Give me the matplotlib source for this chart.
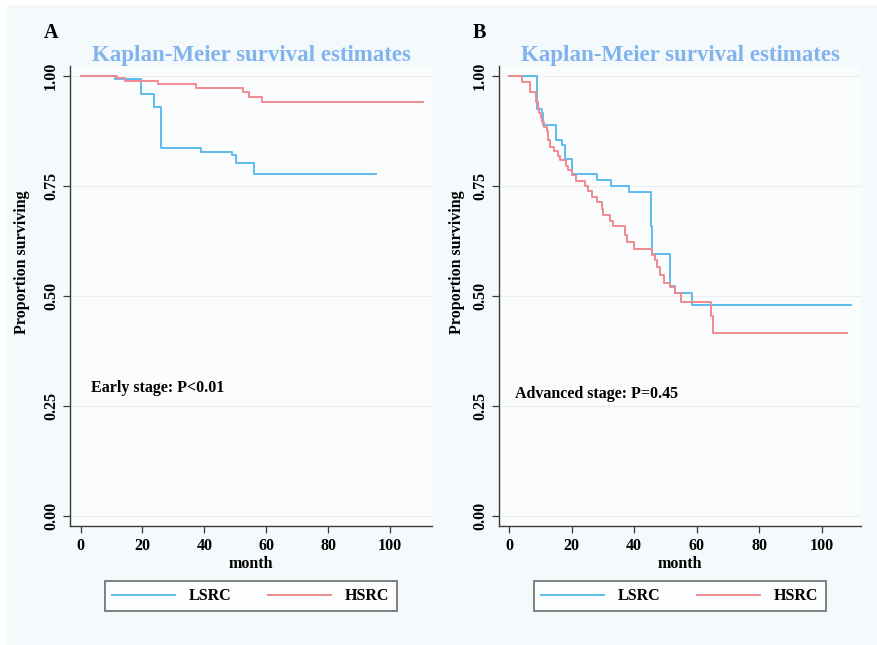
import matplotlib
matplotlib.use("Agg")
import matplotlib.pyplot as plt
from matplotlib.patches import Rectangle

plt.rcParams['font.family'] = ['Liberation Serif', 'DejaVu Serif']
plt.rcParams['font.weight'] = 'bold'

# ---------------- data ----------------
panel_letters = ["A", "B"]
title_text = "Kaplan-Meier survival estimates"
group_names = ["LSRC", "HSRC"]
annotations = ["Early stage: P<0.01", "Advanced stage: P=0.45"]
x_ticks = [0, 20, 40, 60, 80, 100]
y_ticks = [0.00, 0.25, 0.50, 0.75, 1.00]
y_tick_labels = ["0.00", "0.25", "0.50", "0.75", "1.00"]

# Panel A (early stage)
lsrc_a_time = [0, 11.1, 19.4, 23.9, 26.0, 39.1, 49.0, 50.2, 56.0, 95.5]
lsrc_a_surv = [1.0, 0.993, 0.958, 0.930, 0.836, 0.828, 0.821, 0.802, 0.777, 0.777]
hsrc_a_time = [0, 11.8, 14.3, 25.2, 37.3, 52.5, 54.5, 58.6, 110.6]
hsrc_a_surv = [1.0, 0.995, 0.988, 0.981, 0.973, 0.963, 0.952, 0.940, 0.940]

# Panel B (advanced stage)
lsrc_b_time = [0, 8.8, 10.4, 11.0, 14.9, 16.8, 17.9, 20.2, 28.1, 32.5, 38.2,
               45.3, 45.8, 51.4, 53.0, 58.6, 109.2]
lsrc_b_surv = [1.0, 0.924, 0.917, 0.889, 0.855, 0.844, 0.812, 0.777, 0.764, 0.750, 0.736,
               0.658, 0.595, 0.523, 0.507, 0.480, 0.480]
hsrc_b_time = [0, 4.2, 6.6, 8.5, 9.2, 9.6, 10.2, 10.6, 11.3, 12.0,
               12.6, 13.1, 14.5, 15.8, 16.3, 18.1, 19.0, 20.0, 21.3, 24.3,
               25.3, 26.4, 28.0, 29.6, 30.1, 32.3, 33.1, 37.1, 37.8, 40.0,
               45.6, 46.6, 47.4, 48.2, 49.5, 51.4, 53.0, 54.9, 64.4, 65.3, 108.0]
hsrc_b_surv = [1.0, 0.987, 0.963, 0.942, 0.927, 0.916, 0.904, 0.895, 0.885, 0.874,
               0.854, 0.839, 0.829, 0.819, 0.810, 0.795, 0.787, 0.776, 0.762, 0.749,
               0.738, 0.726, 0.713, 0.698, 0.685, 0.670, 0.658, 0.639, 0.622, 0.607,
               0.594, 0.582, 0.566, 0.548, 0.530, 0.520, 0.507, 0.486, 0.454, 0.417, 0.417]

panels = [
    dict(lsrc=(lsrc_a_time, lsrc_a_surv), hsrc=(hsrc_a_time, hsrc_a_surv),
         note=annotations[0], note_xy=(3.4, 0.291), xlim=(-3.4, 113.6),
         rect=[70/878, 119/645, 362/878, 460/645], ylab_x=-0.110, letter_x=51),
    dict(lsrc=(lsrc_b_time, lsrc_b_surv), hsrc=(hsrc_b_time, hsrc_b_surv),
         note=annotations[1], note_xy=(1.9, 0.278), xlim=(-3.2, 112.5),
         rect=[499/878, 119/645, 362/878, 460/645], ylab_x=-0.094, letter_x=479.5),
]

blue = "#5cbcec"
red = "#f08a90"
title_col = "#82b3ee"
spine_col = "#3a3a3a"

W, H = 878, 645
fig = plt.figure(figsize=(W/100, H/100), dpi=100, facecolor="white")
fig.patches.append(Rectangle((7/W, 0), (877-7)/W, (H-5)/H, transform=fig.transFigure,
                             facecolor="#f4f9fb", edgecolor="none", zorder=-10))

for i, p in enumerate(panels):
    ax = fig.add_axes(p["rect"])
    ax.set_facecolor("#fbfcfd")
    for y in y_ticks:
        ax.axhline(y, color="#eaf0f1", lw=0.9, zorder=0)
    l1, = ax.step(p["lsrc"][0], p["lsrc"][1], where="post", color=blue, lw=1.4, label=group_names[0])
    l2, = ax.step(p["hsrc"][0], p["hsrc"][1], where="post", color=red, lw=1.4, label=group_names[1])
    ax.set_xlim(*p["xlim"])
    ax.set_ylim(-0.0227, 1.0227)
    ax.set_xticks(x_ticks)
    ax.set_yticks(y_ticks)
    ax.set_yticklabels(y_tick_labels, rotation=90, va="center")
    for s in ["top", "right"]:
        ax.spines[s].set_visible(False)
    for s in ["left", "bottom"]:
        ax.spines[s].set_color(spine_col)
        ax.spines[s].set_linewidth(1.0)
    ax.tick_params(axis="both", direction="out", length=5, width=0.9, color=spine_col,
                   labelsize=11.5, labelcolor="black")
    ax.tick_params(axis="y", pad=3)
    ax.tick_params(axis="x", pad=4)
    for t in ax.get_xticklabels() + ax.get_yticklabels():
        t.set_fontweight("bold")
    ax.set_xlabel("month", fontsize=11.5, fontweight="bold", labelpad=1)
    ax.set_ylabel("Proportion surviving", fontsize=11.5, fontweight="bold")
    ax.yaxis.set_label_coords(p["ylab_x"], 0.574)
    ax.set_title(title_text, color=title_col, fontsize=16.5, fontweight="bold", pad=3)
    ax.text(p["note_xy"][0], p["note_xy"][1], p["note"], fontsize=11.5, fontweight="bold",
            ha="left", va="center")
    fig.text(p["letter_x"]/W, 1 - 33.5/H, panel_letters[i], fontsize=14.5, fontweight="bold",
             ha="center", va="center")
    leg = ax.legend(handles=[l1, l2], loc="upper center", bbox_to_anchor=(0.5, -0.1196),
                    ncol=2, frameon=True, fancybox=False, fontsize=11.5,
                    handlelength=3.9, handletextpad=0.9, columnspacing=2.3,
                    borderpad=0.45, borderaxespad=0)
    fr = leg.get_frame()
    fr.set_edgecolor("#555555")
    fr.set_linewidth(1.3)
    fr.set_facecolor("white")
    for t in leg.get_texts():
        t.set_fontweight("bold")

fig.savefig("out.png", dpi=100, facecolor=fig.get_facecolor())
